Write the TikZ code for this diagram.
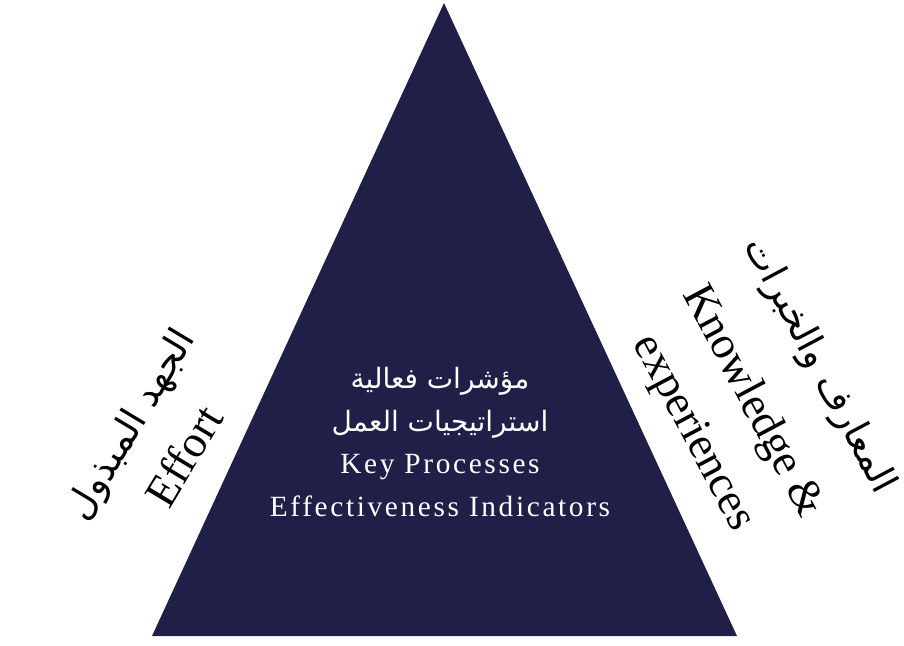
\documentclass[tikz,border=0pt]{standalone}
\usepackage{fontspec}
\setmainfont{Liberation Serif}
\newfontfamily\arabicfont[Script=Arabic]{DejaVu Sans}
\newfontfamily\spacedfont[LetterSpace=9]{Liberation Serif}
\TeXXeTstate=1
\usetikzlibrary{calc}
\definecolor{pyramidblue}{RGB}{32,31,72}
\newcommand{\arline}[1]{{\arabicfont\beginR #1\endR}}

\begin{document}
\begin{tikzpicture}[x=0.75pt, y=-0.75pt,
  sidelabel/.style={align=center, inner sep=0pt,
    font=\fontsize{34}{49}\selectfont},
  corelabel/.style={align=center, inner sep=0pt, text=white,
    font=\fontsize{22}{32}\selectfont}]
  \useasboundingbox (0,0) rectangle (904,646);

  % the pyramid
  \coordinate (apex) at (444,3);
  \coordinate (baseL) at (152,636);
  \coordinate (baseR) at (737,636);
  \fill[pyramidblue] (apex) -- (baseL) -- (baseR) -- cycle;

  % text in the middle
  \node[corelabel] (core) at (440,442)
    {\arline{\fontsize{21}{32}\selectfont مؤشرات فعالية}\\
     \arline{\fontsize{21}{32}\selectfont استراتيجيات العمل}\\
     {\spacedfont Key Processes}\\
     {\spacedfont Effectiveness Indicators}};

  % the two sides
  \node[sidelabel, rotate=59] (effort) at (157,440)
    {\arline{\fontsize{28}{49}\selectfont الجهد المبذول}\\ Effort};
  \node[sidelabel, rotate=-62, font=\fontsize{34}{50}\selectfont] (knowledge) at (755,400)
    {\arline{\fontsize{28}{50}\selectfont المعارف والخبرات}\\[8pt] Knowledge \&\\ experiences};
\end{tikzpicture}
\end{document}
